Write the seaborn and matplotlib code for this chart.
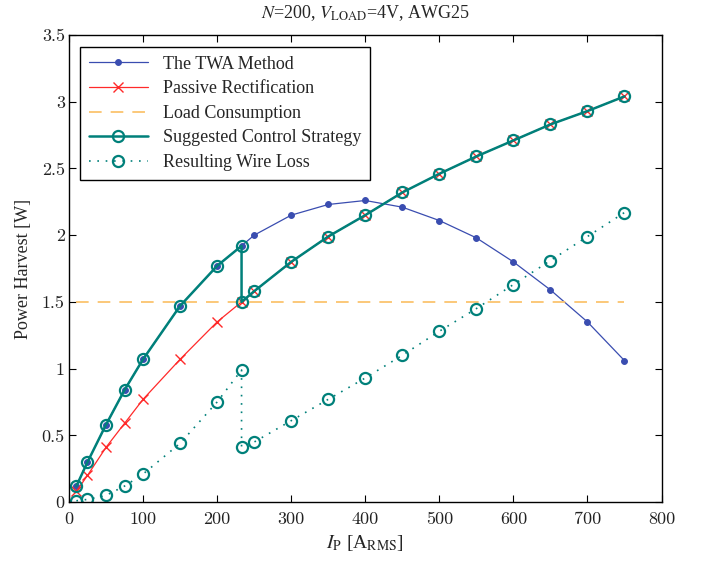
import seaborn as sns
import matplotlib.pyplot as plt
import pandas as pd

# values
ip_twa = [10, 25, 50, 75, 100, 150, 200, 233, 250, 300, 350, 400, 450, 500, 550, 600, 650, 700, 750]
twa = [0.12, 0.30, 0.58, 0.84, 1.07, 1.47, 1.77, 1.92, 2.00, 2.15, 2.23, 2.26, 2.21, 2.11, 1.98, 1.80, 1.59, 1.35, 1.06]

ip_passive = [10, 25, 50, 75, 100, 150, 200, 233, 250, 300, 350, 400, 450, 500, 550, 600, 650, 700, 750]
passive = [0.08, 0.20, 0.41, 0.59, 0.77, 1.07, 1.35, 1.50, 1.58, 1.80, 1.99, 2.15, 2.32, 2.46, 2.59, 2.71, 2.83, 2.93, 3.04]

load_x = [10, 750]
load_y = [1.5, 1.5]

ip_sugg = [10, 25, 50, 75, 100, 150, 200, 233, 233, 250, 300, 350, 400, 450, 500, 550, 600, 650, 700, 750]
suggested = [0.12, 0.30, 0.58, 0.84, 1.07, 1.47, 1.77, 1.92, 1.50, 1.58, 1.80, 1.99, 2.15, 2.32, 2.46, 2.59, 2.71, 2.83, 2.93, 3.04]
wire_loss = [0.01, 0.02, 0.05, 0.12, 0.21, 0.44, 0.75, 0.99, 0.41, 0.45, 0.61, 0.77, 0.93, 1.10, 1.28, 1.45, 1.63, 1.81, 1.99, 2.17]

sns.set_theme(style="ticks")
plt.rcParams["font.family"] = ["Liberation Serif", "DejaVu Serif"]
plt.rcParams["mathtext.fontset"] = "stix"
plt.rcParams["xtick.direction"] = "in"
plt.rcParams["ytick.direction"] = "in"
plt.rcParams["xtick.top"] = True
plt.rcParams["ytick.right"] = True

teal = "#00807a"
blue = "#3a4db0"
red = "#ff2a2a"
orange = "#fbc46e"

fig = plt.figure(figsize=(7.06, 5.61), dpi=100)
ax = fig.add_axes([0.0977, 0.105, 0.8393, 0.8326])

df_twa = pd.DataFrame({"x": ip_twa, "y": twa})
df_pas = pd.DataFrame({"x": ip_passive, "y": passive})
df_load = pd.DataFrame({"x": load_x, "y": load_y})
df_sug = pd.DataFrame({"x": ip_sugg, "y": suggested, "loss": wire_loss})

sns.lineplot(data=df_twa, x="x", y="y", ax=ax, color=blue, lw=0.9, marker="o", ms=4.2,
             mec=blue, label="The TWA Method", sort=False, estimator=None)
sns.lineplot(data=df_pas, x="x", y="y", ax=ax, color=red, lw=0.9, marker="x", ms=7, mew=1,
             mec=red, label="Passive Rectification", sort=False, estimator=None)
sns.lineplot(data=df_load, x="x", y="y", ax=ax, color=orange, lw=1.3, dashes=(7, 5),
             label="Load Consumption", sort=False, estimator=None)
sns.lineplot(data=df_sug, x="x", y="y", ax=ax, color=teal, lw=1.8, marker="o", ms=8,
             mfc="none", mec=teal, mew=1.6, label="Suggested Control Strategy",
             sort=False, estimator=None)
sns.lineplot(data=df_sug, x="x", y="loss", ax=ax, color=teal, lw=1.2, ls=(0, (1, 4)),
             marker="o", ms=8, mfc="none", mec=teal, mew=1.6, label="Resulting Wire Loss",
             sort=False, estimator=None)

ax.set_xlim(0, 800)
ax.set_ylim(0, 3.5)
ax.set_xticks(range(0, 801, 100))
ax.set_yticks([0, 0.5, 1, 1.5, 2, 2.5, 3, 3.5])
ax.set_yticklabels(["0", "0.5", "1", "1.5", "2", "2.5", "3", "3.5"])
ax.tick_params(labelsize=13, length=5, width=0.8, color="black", labelcolor="#222222")
ax.tick_params(axis="x", pad=7)
ax.tick_params(axis="y", pad=3)
for lab in ax.get_xticklabels() + ax.get_yticklabels():
    lab.set_fontfamily("cmr10")
for s in ax.spines.values():
    s.set_color("black")
    s.set_linewidth(1.0)

ax.set_xlabel(r"$I_{\mathrm{P}}$ [A$_{\mathrm{RMS}}$]", fontsize=14, labelpad=4)
ax.set_ylabel("Power Harvest [W]", fontsize=13, labelpad=7)
ax.set_title(r"$N$=200, $V_{\mathrm{LOAD}}$=4V, AWG25", fontsize=13, pad=12)

leg = ax.legend(loc="upper left", bbox_to_anchor=(0.018, 0.975), borderaxespad=0,
                fontsize=13, frameon=True, fancybox=False, framealpha=1,
                edgecolor="black", handlelength=3.3, labelspacing=0.42,
                borderpad=0.5, shadow=False)
leg.get_frame().set_linewidth(1.0)

fig.savefig("out.png", dpi=100)
